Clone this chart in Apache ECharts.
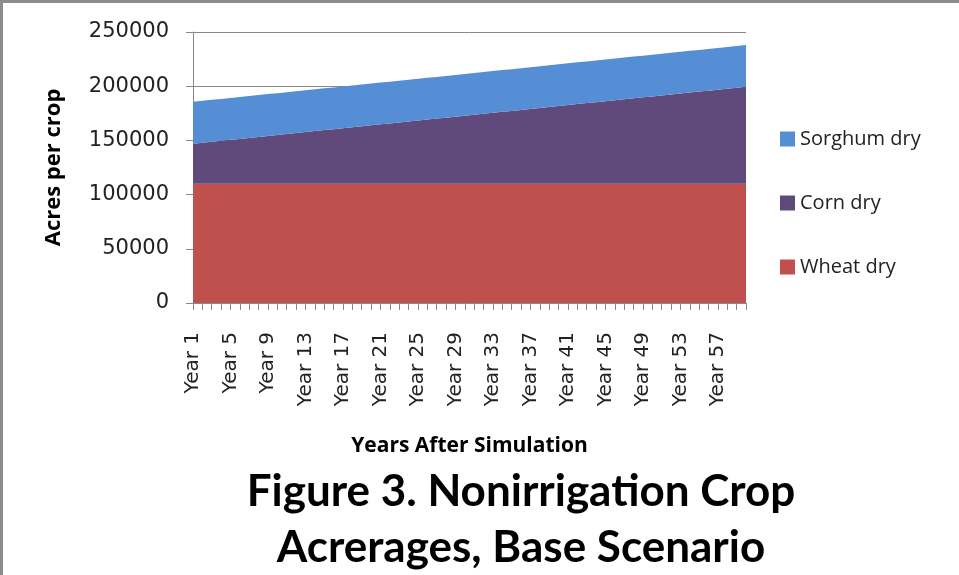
<!DOCTYPE html>
<html>
<head>
<meta charset="utf-8">
<script src="https://cdn.jsdelivr.net/npm/echarts@6/dist/echarts.min.js"></script>
<style>
  html, body { margin: 0; padding: 0; background: #fff; }
  #chart { width: 959px; height: 575px; }
</style>
</head>
<body>
<div id="chart"></div>
<script>
// Years after simulation, 1..60
const years = [];
for (let i = 1; i <= 60; i++) years.push("Year " + i);

const wheatDry = [
  110000, 110000, 110000, 110000, 110000, 110000, 110000, 110000, 110000, 110000,
  110000, 110000, 110000, 110000, 110000, 110000, 110000, 110000, 110000, 110000,
  110000, 110000, 110000, 110000, 110000, 110000, 110000, 110000, 110000, 110000,
  110000, 110000, 110000, 110000, 110000, 110000, 110000, 110000, 110000, 110000,
  110000, 110000, 110000, 110000, 110000, 110000, 110000, 110000, 110000, 110000,
  110000, 110000, 110000, 110000, 110000, 110000, 110000, 110000, 110000, 110000
];

const cornDry = [
  37000, 37900, 38800, 39700, 40600, 41400, 42300, 43200, 44100, 45000,
  45900, 46800, 47700, 48600, 49500, 50300, 51200, 52100, 53000, 53900,
  54800, 55700, 56600, 57500, 58400, 59200, 60100, 61000, 61900, 62800,
  63700, 64600, 65500, 66400, 67200, 68100, 69000, 69900, 70800, 71700,
  72600, 73500, 74400, 75300, 76100, 77000, 77900, 78800, 79700, 80600,
  81500, 82400, 83300, 84200, 85000, 85900, 86800, 87700, 88600, 89500
];

const sorghumDry = [
  38600, 38600, 38600, 38600, 38600, 38600, 38600, 38600, 38600, 38600,
  38600, 38600, 38600, 38600, 38600, 38600, 38600, 38600, 38600, 38600,
  38500, 38500, 38500, 38500, 38500, 38500, 38500, 38500, 38500, 38500,
  38500, 38500, 38500, 38500, 38500, 38500, 38500, 38500, 38500, 38500,
  38500, 38500, 38500, 38500, 38500, 38500, 38500, 38500, 38500, 38500,
  38500, 38500, 38500, 38500, 38500, 38500, 38500, 38500, 38500, 38500
];

const legendNames = ["Sorghum dry", "Corn dry", "Wheat dry"];
const colors = { wheat: "#C0504D", corn: "#604A7B", sorghum: "#558ED5" };

const chart = echarts.init(document.getElementById("chart"));

const areaSeries = (name, data, color) => ({
  name: name,
  type: "line",
  stack: "crops",
  data: data,
  showSymbol: false,
  symbol: "none",
  lineStyle: { width: 0 },
  itemStyle: { color: color },
  areaStyle: { color: color, opacity: 1 }
});

chart.setOption({
  animation: false,
  textStyle: { fontFamily: "Lato, 'Open Sans', sans-serif" },
  title: {
    text: "Figure 3. Nonirrigation Crop\nAcrerages, Base Scenario",
    left: 516,
    top: 459,
    textAlign: "center",
    textStyle: {
      fontFamily: "Lato, sans-serif",
      fontSize: 44,
      fontWeight: "bold",
      color: "#000",
      lineHeight: 56
    }
  },
  legend: {
    data: legendNames,
    orient: "vertical",
    left: 780,
    top: 129,
    padding: 0,
    itemWidth: 15,
    itemHeight: 15,
    itemGap: 44,
    icon: "rect",
    textStyle: { fontFamily: "'Open Sans', sans-serif", fontSize: 20, lineHeight: 20, color: "#222" }
  },
  grid: { left: 193, right: 213, top: 32, bottom: 272 },
  xAxis: {
    type: "category",
    data: years,
    boundaryGap: false,
    name: "Years After Simulation",
    nameLocation: "middle",
    nameGap: 133,
    nameTextStyle: { fontFamily: "'Open Sans', sans-serif", fontSize: 21, fontWeight: "bold", color: "#000" },
    axisLine: { lineStyle: { color: "#888", width: 1 } },
    axisTick: { show: true, interval: 0, length: 7, lineStyle: { color: "#888" } },
    axisLabel: {
      interval: 3,
      rotate: 90,
      margin: 29,
      fontSize: 20,
      color: "#222",
      fontFamily: "'DejaVu Sans', sans-serif"
    }
  },
  yAxis: {
    type: "value",
    min: 0,
    max: 250000,
    interval: 50000,
    name: "Acres per crop",
    nameLocation: "middle",
    nameGap: 128,
    nameTextStyle: { fontFamily: "'Open Sans', sans-serif", fontSize: 22, fontWeight: "bold", color: "#000" },
    axisLine: { show: true, lineStyle: { color: "#888", width: 1 } },
    axisTick: { show: true, length: 7, lineStyle: { color: "#888" } },
    splitLine: { show: true, lineStyle: { color: "#888", width: 1 } },
    axisLabel: {
      fontSize: 21,
      margin: 24,
      color: "#222",
      fontFamily: "'DejaVu Sans', sans-serif",
      formatter: v => String(v)
    }
  },
  graphic: [
    { type: "rect", left: 0, top: 0, shape: { width: 959, height: 3 }, style: { fill: "#8c8c8c" }, silent: true },
    { type: "rect", left: 0, top: 0, shape: { width: 3, height: 575 }, style: { fill: "#8c8c8c" }, silent: true }
  ],
  series: [
    areaSeries("Wheat dry", wheatDry, colors.wheat),
    areaSeries("Corn dry", cornDry, colors.corn),
    areaSeries("Sorghum dry", sorghumDry, colors.sorghum)
  ]
});
</script>
</body>
</html>
